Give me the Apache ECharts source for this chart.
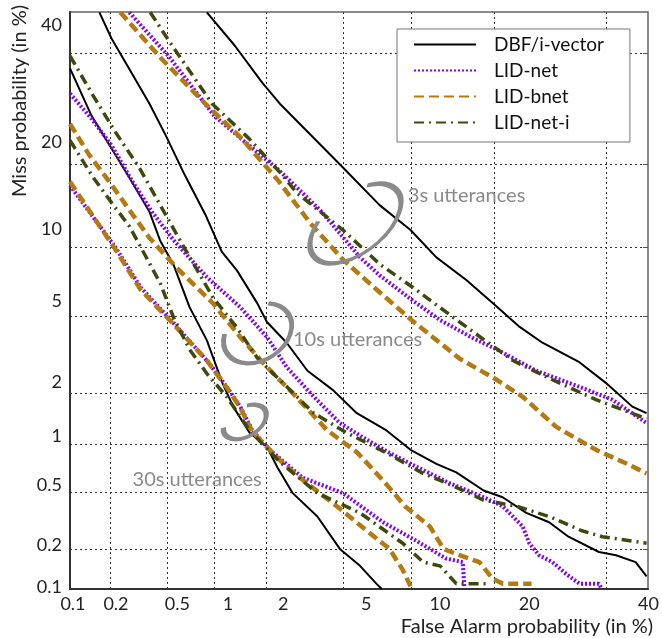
<!DOCTYPE html>
<html>
<head>
<meta charset="utf-8">
<title>DET curves</title>
<script src="https://cdn.jsdelivr.net/npm/echarts@6/dist/echarts.min.js"></script>
<style>
html, body { margin: 0; padding: 0; background: #fff; }
#main { width: 662px; height: 638px; }
</style>
</head>
<body>
<div id="main"></div>
<script>
// tick values of both DET axes (in %)
var tickValues = [0.1, 0.2, 0.5, 1, 2, 5, 10, 20, 40];
var tickLabels = ['0.1', '0.2', '0.5', '1', '2', '5', '10', '20', '40'];
var systemNames = ['DBF/i-vector', 'LID-net', 'LID-bnet', 'LID-net-i'];

// curves: [false alarm %, miss %]
// 3s utterances
var dbf3s = [[0.90,48.5],[1.33,41.5],[1.91,34.1],[2.39,30.1],[4.93,19.7],[7.34,14.5],[9.9,11.7],[12.5,9.1],[16.1,7.27],[19.7,5.74],[23.9,4.43],[27.8,3.70],[34.7,2.94],[40,2.28],[45.5,1.68],[48.5,1.54]];
var net3s = [[0.275,48.5],[0.51,39.4],[1.0,27.9],[1.61,22.9],[2.37,19.1],[3.87,13.9],[6.0,9.1],[7.34,7.64],[10.1,5.9],[12.9,4.78],[16.9,3.91],[20.3,3.42],[26.7,2.65],[34.7,2.17],[41.3,1.84],[48.5,1.35]];
var bnet3s = [[0.237,48.5],[0.46,38.8],[0.88,30.1],[1.46,24.0],[2.37,17.5],[3.46,12.4],[5.0,8.9],[7.34,6.43],[10.1,4.73],[15.2,3.07],[20.3,2.37],[24.4,1.91],[30.3,1.28],[38.0,0.93],[44.8,0.75],[48.5,0.66]];
var neti3s = [[0.384,48.5],[0.54,41.5],[0.97,30.1],[1.61,24.0],[2.45,18.5],[2.95,16.0],[5.0,11.7],[7.34,8.53],[10.1,6.77],[15.2,4.68],[22.8,3.0],[29.6,2.37],[38.0,1.84],[48.5,1.43]];
// 10s utterances
var dbf10s = [[0.167,48.5],[0.205,43.0],[0.275,36.8],[0.38,30.1],[0.49,24.5],[0.65,18.5],[0.88,13.4],[1.11,9.6],[1.37,8.0],[1.79,5.74],[2.03,4.68],[2.6,3.70],[3.34,2.65],[4.48,2.08],[5.8,1.54],[7.86,1.22],[9.9,0.93],[12.5,0.76],[14.8,0.67],[18.4,0.51],[21.2,0.46],[25.0,0.36],[29.0,0.31],[32.6,0.245],[38.6,0.19],[42.1,0.18],[46.2,0.16],[48.5,0.125]];
var net10s = [[0.1,32.0],[0.146,27.4],[0.205,22.9],[0.29,17.5],[0.395,13.7],[0.55,10.7],[0.9,7.5],[1.43,5.5],[2.03,3.95],[2.6,2.77],[3.6,1.91],[4.83,1.35],[6.45,1.07],[8.1,0.89],[9.9,0.76],[14.0,0.57],[18.4,0.46],[21.2,0.40],[24.4,0.29],[25.5,0.22],[27.2,0.18],[29.6,0.16],[32.2,0.13],[34.7,0.11],[38.6,0.11],[39.2,0.1]];
var bnet10s = [[0.1,26.5],[0.14,21.4],[0.205,17.1],[0.29,13.4],[0.38,10.9],[0.58,8.2],[0.98,5.74],[1.43,3.95],[2.03,2.77],[2.8,2.0],[4.2,1.22],[5.8,0.9],[6.8,0.71],[7.86,0.56],[9.4,0.40],[11.8,0.29],[13.3,0.20],[15.2,0.18],[17.8,0.16],[19.7,0.12],[21.2,0.11],[25.9,0.11]];
var neti10s = [[0.1,39.4],[0.15,31.6],[0.22,25.0],[0.325,19.4],[0.44,14.8],[0.58,11.2],[0.98,6.1],[1.37,4.38],[1.79,3.1],[2.48,2.28],[3.6,1.54],[5.2,1.18],[7.86,0.89],[11.1,0.66],[14.0,0.56],[18.4,0.44],[23.4,0.40],[29.0,0.34],[35.2,0.27],[39.3,0.245],[48.5,0.22]];
// 30s utterances
var dbf30s = [[0.1,36.9],[0.146,27.9],[0.205,22.4],[0.275,18.1],[0.38,13.7],[0.45,10.6],[0.55,8.5],[0.7,5.5],[0.9,3.8],[1.12,2.28],[1.3,1.68],[1.62,1.18],[2.03,0.97],[2.32,0.72],[2.8,0.49],[3.75,0.34],[4.83,0.20],[6.0,0.15],[7.1,0.11],[7.5,0.1]];
var net30s = [[0.1,17.0],[0.15,13.1],[0.22,9.95],[0.33,6.77],[0.55,4.63],[0.9,3.0],[1.19,2.17],[1.43,1.68],[1.68,1.22],[2.1,0.93],[3.15,0.62],[5.0,0.49],[7.6,0.31],[10.4,0.23],[13.6,0.17],[15.6,0.16],[15.8,0.105]];
var bnet30s = [[0.1,17.5],[0.22,9.75],[0.33,6.6],[0.55,4.57],[0.9,3.0],[1.19,2.15],[1.43,1.66],[1.68,1.2],[2.39,0.8],[3.15,0.6],[4.67,0.40],[6.45,0.27],[8.1,0.20],[9.2,0.14],[9.9,0.105]];
var neti30s = [[0.1,23.7],[0.15,18.1],[0.205,14.8],[0.275,12.1],[0.325,10.2],[0.45,7.05],[0.55,4.93],[0.7,3.42],[0.9,2.56],[1.19,1.91],[1.62,1.22],[2.39,0.78],[3.75,0.49],[6.0,0.36],[9.2,0.22],[11.1,0.16],[12.9,0.15],[14.8,0.11],[18.9,0.11]];

// normal deviate (inverse normal cdf, Acklam)
function probit(p) {
    var a = [-3.969683028665376e+01, 2.209460984245205e+02, -2.759285104469687e+02, 1.383577518672690e+02, -3.066479806614716e+01, 2.506628277459239e+00];
    var b = [-5.447609879822406e+01, 1.615858368580409e+02, -1.556989798598866e+02, 6.680131188771972e+01, -1.328068155288572e+01];
    var c = [-7.784894002430293e-03, -3.223964580411365e-01, -2.400758277161838e+00, -2.549732539343734e+00, 4.374664141464968e+00, 2.938163982698783e+00];
    var d = [7.784695709041462e-03, 3.224671290700398e-01, 2.445134137142996e+00, 3.754408661907416e+00];
    var pl = 0.02425, q, r;
    if (p < pl) {
        q = Math.sqrt(-2 * Math.log(p));
        return (((((c[0]*q+c[1])*q+c[2])*q+c[3])*q+c[4])*q+c[5]) / ((((d[0]*q+d[1])*q+d[2])*q+d[3])*q+1);
    }
    if (p <= 1 - pl) {
        q = p - 0.5; r = q * q;
        return (((((a[0]*r+a[1])*r+a[2])*r+a[3])*r+a[4])*r+a[5])*q / (((((b[0]*r+b[1])*r+b[2])*r+b[3])*r+b[4])*r+1);
    }
    q = Math.sqrt(-2 * Math.log(1 - p));
    return -(((((c[0]*q+c[1])*q+c[2])*q+c[3])*q+c[4])*q+c[5]) / ((((d[0]*q+d[1])*q+d[2])*q+d[3])*q+1);
}
function toDet(arr) {
    return arr.map(function (pt) { return [probit(pt[0] / 100), probit(pt[1] / 100)]; });
}

var tickPos = tickValues.map(function (v) { return probit(v / 100); });
function tickText(v) {
    for (var i = 0; i < tickPos.length; i++) {
        if (Math.abs(tickPos[i] - v) < 1e-6) return tickLabels[i];
    }
    return '';
}

var styles = {
    'DBF/i-vector': { color: '#000000', width: 2, type: 'solid' },
    'LID-net': { color: '#7f00ff', width: 4, type: [2, 2] },
    'LID-bnet': { color: '#b47a10', width: 4.5, type: [10, 5] },
    'LID-net-i': { color: '#3d4a0d', width: 3.5, type: [10, 5, 2, 5] }
};

var curves = [
    { name: 'DBF/i-vector', data: dbf3s }, { name: 'DBF/i-vector', data: dbf10s }, { name: 'DBF/i-vector', data: dbf30s },
    { name: 'LID-net', data: net3s }, { name: 'LID-net', data: net10s }, { name: 'LID-net', data: net30s },
    { name: 'LID-bnet', data: bnet3s }, { name: 'LID-bnet', data: bnet10s }, { name: 'LID-bnet', data: bnet30s },
    { name: 'LID-net-i', data: neti3s }, { name: 'LID-net-i', data: neti10s }, { name: 'LID-net-i', data: neti30s }
];

var series = curves.map(function (c) {
    var s = styles[c.name];
    return {
        type: 'line',
        name: c.name,
        xAxisIndex: 0,
        yAxisIndex: 0,
        data: toDet(c.data),
        symbol: 'none',
        showSymbol: false,
        silent: true,
        emphasis: { disabled: true },
        itemStyle: { color: s.color },
        lineStyle: { color: s.color, width: s.width, type: s.type }
    };
});

var font = 'Lato';

var option = {
    animation: false,
    backgroundColor: '#fff',
    grid: [
        { left: 70, top: 12, right: 14, bottom: 49, show: true, borderColor: '#666', borderWidth: 1.5 },
        // only carries the tick labels, which sit on a slightly wider scale in the source figure
        { left: 66, top: 5, right: 5, bottom: 43 }
    ],
    xAxis: [
        {
            type: 'value', gridIndex: 0, min: probit(0.001), max: -0.030,
            axisLine: { show: true, onZero: false, lineStyle: { color: '#333', width: 2 } },
            axisTick: { show: false, customValues: tickPos },
            axisLabel: { show: false },
            splitLine: { show: true, lineStyle: { color: '#333', width: 1, type: [2, 3] } }
        },
        {
            type: 'value', gridIndex: 1, min: -3.1245, max: -0.2132,
            axisLine: { show: false }, axisTick: { show: false }, splitLine: { show: false },
            axisLabel: { customValues: tickPos, formatter: tickText, margin: 0, fontFamily: font, fontSize: 18, color: '#222' }
        }
    ],
    yAxis: [
        {
            type: 'value', gridIndex: 0, min: probit(0.001), max: -0.036,
            axisLine: { show: true, onZero: false, lineStyle: { color: '#333', width: 2 } },
            axisTick: { show: false, customValues: tickPos },
            axisLabel: { show: false },
            splitLine: { show: true, lineStyle: { color: '#333', width: 1, type: [2, 3] } }
        },
        {
            type: 'value', gridIndex: 1, min: -3.1304, max: -0.1506,
            axisLine: { show: false }, axisTick: { show: false }, splitLine: { show: false },
            axisLabel: { customValues: tickPos, formatter: tickText, margin: 4, fontFamily: font, fontSize: 18, color: '#222' }
        },
        {
            type: 'value', gridIndex: 0, position: 'right', min: probit(0.001), max: -0.036,
            axisLine: { show: false },
            axisTick: { show: true, inside: true, length: 5, customValues: tickPos.slice(1), lineStyle: { color: '#555' } },
            axisLabel: { show: false }, splitLine: { show: false }
        }
    ],
    legend: {
        data: systemNames,
        orient: 'vertical',
        left: 397, top: 29,
        padding: [6, 26, 10, 16],
        itemWidth: 62, itemHeight: 18, itemGap: 7,
        backgroundColor: '#fff', borderColor: '#777', borderWidth: 1,
        selectedMode: false,
        itemStyle: { opacity: 0, borderWidth: 0 },
        textStyle: { fontFamily: font, fontSize: 19, color: '#111', padding: [0, 0, 0, 13] }
    },
    graphic: [
        { type: 'text', x: 20, y: 101, rotation: Math.PI / 2,
          style: { text: 'Miss probability (in %)', font: '20px ' + font, fill: '#222', align: 'center', verticalAlign: 'middle' } },
        { type: 'text', x: 527, y: 627,
          style: { text: 'False Alarm probability (in %)', font: '20px ' + font, fill: '#222', align: 'center', verticalAlign: 'middle' } }
    ],
    series: series
};

var chart = echarts.init(document.getElementById('main'));
chart.setOption(option);

// utterance-length annotations, anchored in data space (%)
var groups = [
    { text: '3s utterances', center: [5.72, 12.39], label: [9.65, 15.7], a: 53, b: 29, rot: 38, from: 308, to: 598 },
    { text: '10s utterances', center: [1.80, 4.12], label: [2.81, 3.83], a: 36.5, b: 27, rot: 32, from: 313, to: 579 },
    { text: '30s utterances', center: [1.52, 1.37], label: [0.29, 0.606], a: 23.5, b: 14.5, rot: 31, from: 296, to: 565 }
];
var marks = [];
groups.forEach(function (g) {
    var c = chart.convertToPixel({ gridIndex: 0 }, [probit(g.center[0] / 100), probit(g.center[1] / 100)]);
    var t = chart.convertToPixel({ gridIndex: 0 }, [probit(g.label[0] / 100), probit(g.label[1] / 100)]);
    marks.push({
        type: 'arc', x: c[0], y: c[1], rotation: g.rot * Math.PI / 180, scaleX: g.a / g.b, scaleY: 1,
        shape: { cx: 0, cy: 0, r: g.b, startAngle: g.from * Math.PI / 180, endAngle: g.to * Math.PI / 180, clockwise: true },
        style: { stroke: '#8a8a8a', lineWidth: 4.5, fill: 'none', strokeNoScale: true },
        silent: true, z: 10
    });
    marks.push({
        type: 'text', x: t[0], y: t[1], silent: true, z: 10,
        style: { text: g.text, font: '20px ' + font, fill: '#8a8a8a', align: 'left', verticalAlign: 'middle' }
    });
});
chart.setOption({ graphic: option.graphic.concat(marks) });
</script>
</body>
</html>
